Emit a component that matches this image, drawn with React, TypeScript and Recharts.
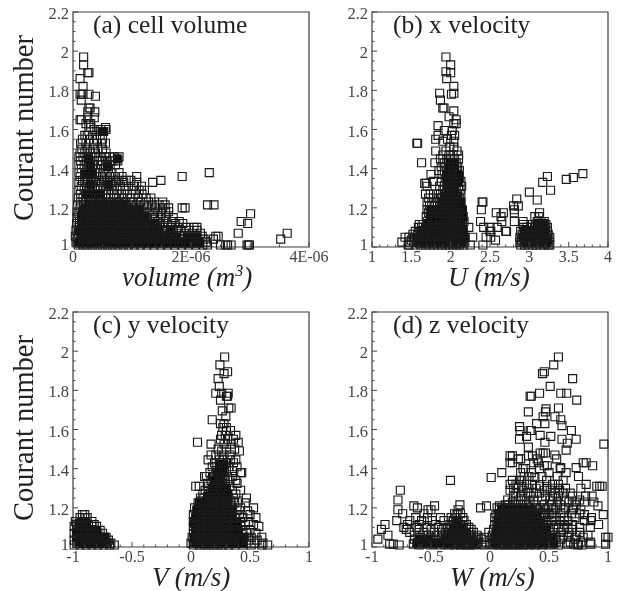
import { ScatterChart, Scatter, XAxis, YAxis, ZAxis, ReferenceArea } from 'recharts';

type Row = [number, number[]];

const courantMajor = [1, 1.2, 1.4, 1.6, 1.8, 2, 2.2];
const courantTicks = [1, 1.05, 1.1, 1.15, 1.2, 1.25, 1.3, 1.35, 1.4, 1.45, 1.5, 1.55, 1.6, 1.65, 1.7, 1.75, 1.8, 1.85, 1.9, 1.95, 2, 2.05, 2.1, 2.15, 2.2];

const volumeMajor = [0, 2, 4];
const volumeLabels = ['0', '2E-06', '4E-06'];
const volumeTicks = [0, 0.5, 1, 1.5, 2, 2.5, 3, 3.5, 4];
const uMajor = [1, 1.5, 2, 2.5, 3, 3.5, 4];
const uLabels = ['1', '1.5', '2', '2.5', '3', '3.5', '4'];
const uTicks = [1, 1.1, 1.2, 1.3, 1.4, 1.5, 1.6, 1.7, 1.8, 1.9, 2, 2.1, 2.2, 2.3, 2.4, 2.5, 2.6, 2.7, 2.8, 2.9, 3, 3.1, 3.2, 3.3, 3.4, 3.5, 3.6, 3.7, 3.8, 3.9, 4];
const vwMajor = [-1, -0.5, 0, 0.5, 1];
const vwLabels = ['-1', '-0.5', '0', '0.5', '1'];
const vwTicks = [-1, -0.9, -0.8, -0.7, -0.6, -0.5, -0.4, -0.3, -0.2, -0.1, 0, 0.1, 0.2, 0.3, 0.4, 0.5, 0.6, 0.7, 0.8, 0.9, 1];

// each row: Courant number, then the x values read at that height (volume in 1E-06 m3)
const volumeRows: Row[] = [
  [1.97,[.18]],[1.93,[.18]],[1.89,[.27,.25]],[1.86,[.12]],[1.82,[.17]],[1.78,[.12,.17,.27,.15]],[1.77,[.38]],[1.75,[.14]],[1.71,[.27,.29]],[1.69,[.37,.25]],[1.66,[.36,.25]],[1.65,[.12,.14]],[1.63,[.27,.3,.22]],[1.61,[.55,.3]],[1.6,[.56,.36,.47]],[1.59,[.5,.52,.27,.44]],
  [1.57,[.2,.33,.46,.24]],[1.55,[.16,.28,.4,.5]],[1.53,[.13,.22,.35,.48,.55]],[1.5,[.15,.24,.34,.42,.5]],[1.48,[.12,.2,.3,.38,.56]],[1.46,[.1,.17,.26,.36,.46,.54,.62,.7,.78]],[1.44,[.13,.22,.3,.42,.5,.58,.66,.76]],[1.42,[.1,.19,.27,.35,.47,.55,.63,.72]],[1.4,[.14,.24,.33,.41,.52,.6]],
  [1.38,[.1,.2,.29,.37,.46,.56,.66,.78,2.31]],[1.36,[.12,.22,.31,.4,.5,.62,.72,.83,1.08,1.85]],[1.34,[.16,.25,.34,.44,.54,.68,.78,.9,.98,1.49]],[1.33,[.1,.2,.3,.38,.48,.58,.64,.74,.86,1.08,1.35]],[1.31,[.14,.23,.33,.42,.52,.6,.7,.8,.94,1.04,1.16]],[1.29,[.1,.19,.27,.37,.46,.56,.66,.76,.88,1,1.12,1.21]],
  [1.27,[.13,.22,.3,.4,.5,.6,.7,.82,.92,1.06,1.17]],[1.25,[.09,.17,.26,.35,.45,.55,.64,.74,.86,.98,1.1,1.24,1.32]],[1.23,[.13,.21,.3,.38,.47,.56,.68,.78,.9,1.02,1.14,1.28,1.38,1.52]],
  [1.215,[.08,.18,.27,.36,.44,.52,.61,.7,.8,.88,.98,1.08,1.2,1.34,1.46,1.56,2.28,2.39]],[1.2,[.12,.23,.31,.4,.49,.57,.66,.75,.84,.93,1.03,1.13,1.25,1.4,1.52,1.62,1.85,1.9]],
  [1.18,[.07,.16,.26,.34,.43,.53,.6,.7,.78,.88,.97,1.07,1.17,1.29,1.44,1.57,1.62]],[1.17,[.1,.2,.29,.38,.47,.56,.64,.73,.83,.92,1.01,1.11,1.22,1.34,1.5,3.01]],
  [1.15,[.07,.15,.24,.32,.41,.5,.59,.67,.77,.86,.95,1.05,1.15,1.26,1.38,1.48,1.58,1.7]],[1.13,[.11,.19,.28,.37,.45,.54,.62,.71,.81,.9,.99,1.09,1.2,1.31,1.43,1.54,1.68,1.8,2.85]],
  [1.12,[.06,.15,.23,.32,.41,.49,.58,.67,.75,.85,.94,1.03,1.14,1.25,1.37,1.48,1.6,1.74,1.86,2.96]],[1.1,[.1,.19,.27,.36,.45,.53,.62,.7,.79,.88,.98,1.07,1.18,1.29,1.42,1.53,1.66,1.78,1.92,2.05,2.1]],
  [1.085,[.05,.14,.22,.31,.4,.48,.57,.65,.74,.83,.93,1.03,1.13,1.24,1.35,1.47,1.58,1.7,1.83,1.97,2.1]],[1.07,[.09,.18,.26,.35,.44,.52,.61,.69,.78,.87,.97,1.08,1.19,1.3,1.42,1.53,1.64,1.76,1.89,2.02,2.16,2.8,3.63]],
  [1.055,[.04,.13,.22,.3,.39,.47,.56,.64,.73,.82,.92,1.02,1.13,1.24,1.36,1.47,1.58,1.7,1.82,1.94,2.07,2.19,2.42,2.46]],[1.04,[.08,.17,.26,.34,.43,.51,.6,.68,.77,.86,.96,1.06,1.17,1.28,1.4,1.51,1.62,1.74,1.86,1.98,2.1,2.22,2.38,3.52]],
  [1.025,[.05,.13,.21,.29,.38,.46,.55,.63,.72,.81,.9,1,1.1,1.21,1.33,1.45,1.56,1.67,1.79,1.91,2.03,2.14,2.26]],[1.01,[.09,.17,.25,.33,.42,.5,.59,.67,.76,.85,.94,1.04,1.14,1.25,1.37,1.49,1.6,1.72,1.84,1.96,2.08,2.2,2.28,2.5,2.59,2.62,2.68,2.95,2.97,2.99]]
];

// where the open squares pile up into solid ink, same units as the rows above
const volumeCore: Row[] = [
  [1.59,[.51]],[1.45,[.75,.26]],[1.41,[.58,.3]],[1.37,[.2,.33]],[1.32,[.3,.6]],[1.27,[.22,.34,.46]],[1.22,[.26,.38,.5,.62,.74,.86]],[1.19,[.18,.3,.42,.54,.66,.78,.9,1,1.12]],[1.155,[.14,.26,.38,.5,.62,.74,.86,.98,1.1,1.22]],[1.12,[.15,.27,.39,.5,.62,.74,.86,.98,1.1,1.22,1.38]],
  [1.085,[.1,.22,.34,.46,.58,.7,.82,.94,1.06,1.18,1.3,1.45,1.66]],[1.05,[.15,.27,.39,.51,.63,.75,.86,.98,1.1,1.22,1.34,1.47,1.6,1.74,1.96,2.1]],[1.02,[.1,.22,.33,.46,.57,.7,.81,.93,1.04,1.17,1.28,1.4,1.53,1.65,1.78,1.9,2.02,2.15]]
];

// U velocity in m/s
const uRows: Row[] = [
  [1.97,[1.94]],[1.93,[2]],[1.895,[1.94]],[1.89,[2]],[1.86,[1.95]],[1.82,[2.04]],[1.785,[2.04,1.86]],[1.78,[2.01]],[1.75,[1.87]],[1.71,[1.9,1.915]],[1.695,[2.04]],[1.665,[1.98]],[1.65,[2.07]],[1.63,[2.07,2.04]],[1.62,[1.84]],[1.595,[1.92,2.02]],[1.57,[1.84,2.05,2.01]],[1.55,[1.81,1.96]],[1.54,[1.9,2.04]],[1.53,[1.57,1.58]],[1.51,[1.99,2.04]],[1.49,[1.81,1.94,2.08]],[1.47,[1.9,1.98,2.03,2.1]],
  [1.45,[1.87,1.95,2,2.05,2.1]],[1.43,[1.63,1.8,1.92,1.97,2.02,2.07]],[1.41,[1.88,1.94,1.99,2.04,2.09]],[1.39,[1.85,1.92,1.97,2.02,2.07,2.11]],[1.37,[1.75,1.89,1.95,2,2.04,2.09]],[1.35,[1.93,1.98,2.02,2.06,2.11]],[1.335,[1.78,1.88,1.95,2,2.04,2.08,2.13]],[1.325,[1.67,1.69]],[1.31,[1.7,1.86,1.92,1.97,2.01,2.05,2.1,2.14]],[1.29,[1.9,1.95,1.99,2.03,2.07,2.12]],[1.27,[1.68,1.74,1.82,1.87,1.93,1.97,2.01,2.05,2.09,2.13]],
  [1.25,[1.72,1.78,1.85,1.9,1.95,1.99,2.03,2.07,2.11]],[1.23,[1.7,1.76,1.83,1.88,1.93,1.97,2.01,2.05,2.09,2.13,2.4,2.41]],[1.21,[1.73,1.79,1.86,1.91,1.95,1.99,2.03,2.07,2.12,2.8,2.86]],[1.19,[1.7,1.75,1.81,1.87,1.92,1.96,2,2.04,2.08,2.13,2.39,2.81]],[1.175,[1.72,1.78,1.83,1.89,1.94,1.98,2.02,2.06,2.1,2.15,2.58,2.67,2.81,3.13]],[1.155,[1.69,1.75,1.8,1.86,1.91,1.95,1.99,2.03,2.07,2.11,2.16,2.64,3.07,3.12]],
  [1.13,[1.7,1.76,1.81,1.87,1.92,1.96,2,2.04,2.08,2.13,2.17,2.38,2.65,2.81,2.92,3.1,3.15,3.19]],[1.115,[1.6,1.65,1.72,1.78,1.84,1.89,1.94,1.98,2.02,2.06,2.11,2.15,2.92,3.04,3.08,3.13,3.18,3.21]],[1.1,[1.59,1.63,1.68,1.74,1.8,1.85,1.9,1.95,2,2.04,2.08,2.12,2.23,2.42,2.5,2.59,2.93,2.97,3.02,3.07,3.12,3.16,3.2,3.23]],
  [1.08,[1.55,1.61,1.66,1.71,1.77,1.82,1.87,1.92,1.97,2.01,2.05,2.1,2.14,2.5,2.51,2.7,2.71,2.89,2.94,2.99,3.04,3.09,3.14,3.18,3.23]],[1.065,[1.52,1.58,1.63,1.69,1.74,1.79,1.84,1.89,1.94,1.99,2.03,2.08,2.12,2.16,2.91,2.96,3.01,3.06,3.11,3.15,3.2,3.24]],[1.05,[1.42,1.47,1.54,1.6,1.66,1.72,1.77,1.82,1.87,1.92,1.97,2.01,2.05,2.1,2.14,2.18,2.28,2.45,2.51,2.88,2.93,2.98,3.03,3.08,3.13,3.17,3.22,3.26]],
  [1.035,[1.5,1.56,1.62,1.68,1.74,1.79,1.84,1.89,1.94,1.99,2.03,2.08,2.12,2.16,2.57,2.9,2.95,3,3.05,3.1,3.15,3.19,3.23]],[1.025,[1.38,1.47,1.53,1.59,1.65,1.71,1.76,1.81,1.86,1.91,1.96,2,2.05,2.09,2.14,2.18,2.88,2.92,2.97,3.02,3.07,3.12,3.17,3.21,3.25]],[1.01,[1.46,1.47,1.55,1.62,1.68,1.74,1.79,1.84,1.89,1.94,1.98,2.03,2.07,2.11,2.16,2.25,2.41,2.89,2.94,2.99,3.04,3.09,3.14,3.19,3.24,3.26]],
  [1.36,[3.23]],[1.33,[3.17]],[1.29,[3.27]],[1.28,[3]],[1.245,[2.84]],[1.24,[3.1]],[1.345,[3.47]],[1.355,[3.56]],[1.375,[3.68]]
];

const uCore: Row[] = [
  [1.43,[1.99,2.04]],[1.4,[1.97,2.05]],[1.365,[1.95,2.03,2.1]],[1.33,[1.96,2.04,2.1]],[1.295,[1.97,2.05]],[1.26,[1.93,2.01,2.09]],[1.225,[1.9,1.98,2.06,2.13]],[1.19,[1.75,1.84,1.93,2.01,2.09,2.15]],[1.155,[1.74,1.83,1.92,2,2.08,2.15]],
  [1.12,[1.7,1.79,1.88,1.97,2.05,2.13,3.1,3.18]],[1.085,[1.64,1.73,1.82,1.91,2,2.08,2.16,2.95,3.04,3.13,3.2]],[1.05,[1.57,1.66,1.75,1.84,1.93,2.02,2.1,2.18,2.92,3.01,3.1,3.19]],[1.02,[1.6,1.69,1.78,1.87,1.96,2.05,2.14,2.95,3.04,3.13,3.22]]
];

// V velocity in m/s
const vRows: Row[] = [
  [1.97,[.285]],[1.93,[.245]],[1.895,[.31]],[1.885,[.28]],[1.86,[.23]],[1.82,[.24]],[1.785,[.21,.26,.315]],[1.77,[.31,.3]],[1.75,[.25]],[1.71,[.32,.34]],[1.695,[.265]],[1.665,[.295]],[1.65,[.18]],[1.63,[.25,.28]],[1.61,[.27,.3]],[1.595,[.335,.3]],[1.57,[.26,.38,.29]],[1.55,[.25,.31,.36]],[1.535,[.055,.4]],[1.525,[.17,.28,.34]],[1.5,[.23,.3,.37]],[1.49,[.41,.26]],
  [1.47,[.17,.21,.28,.33]],[1.445,[.145,.24,.27,.335,.38]],[1.43,[.2,.25,.3,.36]],[1.41,[.18,.22,.27,.32,.39]],[1.39,[.21,.25,.3,.35]],[1.38,[.42,.43,.16]],[1.36,[.115,.13,.19,.23,.27,.31,.35]],[1.34,[.17,.21,.25,.29,.33,.38]],[1.325,[.39,.14,.23,.27]],[1.31,[.04,.07,.15,.19,.25,.29,.33]],[1.29,[.12,.17,.21,.25,.29,.35,.42]],[1.27,[.1,.15,.19,.23,.27,.31,.38]],
  [1.25,[.08,.11,.16,.2,.24,.28,.32,.36,.47]],[1.235,[.09,.13,.17,.21,.25,.29,.34,.4]],[1.225,[.06,.11,.15,.19,.23,.27,.31,.37,.46]],[1.2,[.03,.07,.11,.15,.19,.23,.27,.31,.35,.42,.53]],[1.185,[.05,.09,.13,.17,.21,.25,.29,.33,.39,.48]],[1.165,[.02,.06,.1,.14,.18,.22,.26,.3,.35,.41,.5,-.9,-.92]],[1.15,[.04,.08,.12,.16,.2,.24,.28,.32,.38,.44,.55,-.94,-.88,-.9]],
  [1.13,[.02,.06,.1,.14,.18,.22,.26,.31,.36,.42,.49,-.98,-.93,-.89,-.84]],[1.115,[.04,.08,.12,.16,.2,.24,.28,.33,.39,.46,.53,-.97,-.92,-.87,-.82]],[1.105,[.02,.06,.1,.14,.18,.22,.26,.3,.36,.42,.575,-.99,-.94,-.89,-.84,-.8]],[1.085,[.04,.08,.12,.16,.2,.24,.28,.33,.38,.44,.5,-.97,-.92,-.87,-.82,-.77]],[1.07,[.02,.06,.1,.14,.18,.22,.26,.3,.35,.4,.47,.55,-.99,-.94,-.89,-.84,-.79,-.75]],
  [1.05,[.01,.05,.09,.13,.17,.21,.25,.29,.33,.38,.44,.51,.6,-.97,-.92,-.87,-.82,-.77,-.72]],[1.035,[.03,.07,.11,.15,.19,.23,.27,.31,.36,.42,.49,.56,-.99,-.94,-.89,-.84,-.79,-.74,-.7]],[1.02,[0,.05,.09,.13,.17,.21,.25,.29,.34,.4,.47,.54,.61,-.97,-.92,-.87,-.82,-.77,-.72,-.68]],[1.01,[.02,.07,.11,.15,.19,.23,.27,.32,.37,.44,.51,.6,.65,-.99,-.94,-.89,-.84,-.79,-.74,-.69,-.65]]
];

const vCore: Row[] = [
  [1.42,[.24,.28]],[1.38,[.22,.27]],[1.34,[.2,.25]],[1.3,[.18,.24,.3]],[1.26,[.14,.2,.26,.31]],[1.225,[.07,.13,.19,.25,.31]],[1.19,[.05,.11,.17,.23,.29,.35]],[1.155,[.04,.1,.16,.22,.28,.34]],
  [1.12,[.03,.09,.15,.21,.27,.33,.39,-.95,-.89]],[1.085,[.04,.1,.16,.22,.28,.34,.4,-.97,-.91,-.85,-.8]],[1.05,[.03,.09,.15,.21,.27,.33,.39,.45,-.97,-.91,-.85,-.79,-.73]],[1.02,[.02,.08,.14,.2,.26,.32,.38,.44,-.95,-.89,-.83,-.77,-.71]]
];

// W velocity in m/s
const wRows: Row[] = [
  [1.97,[.58]],[1.93,[.54]],[1.895,[.46]],[1.885,[.445]],[1.86,[.7]],[1.82,[.51]],[1.785,[.42,.6,.65]],[1.77,[.34,.35]],[1.75,[.735]],[1.71,[.58]],[1.705,[.475]],[1.69,[.47,.325]],[1.665,[.55,.45]],[1.65,[.6]],[1.63,[.465,.395]],[1.62,[.61]],[1.615,[.25]],[1.595,[.255,.34,.35,.69]],[1.57,[.425]],[1.565,[.31,.515]],[1.55,[.25,.61,.73]],[1.535,[.465]],[1.53,[.655]],[1.525,[.965]],[1.51,[.325]],[1.495,[.645]],
  [1.48,[.425,.45,.47]],[1.47,[.55]],[1.465,[.17,.19,.325,.36]],[1.45,[.24,.26,.4,.565]],[1.43,[.17,.19,.37,.41,.79,.815]],[1.415,[.485,.87,.46]],[1.405,[.73,.6]],[1.4,[.3,.28,.595,.42]],[1.38,[.1,.645,.26,.35,.5]],[1.36,[.75,.57,.44,.33,.29]],[1.355,[.01,.38]],[1.34,[-.335,.19,.25,.27,.48,.62]],[1.32,[.815,.17,.22,.31,.36,.53,.58]],
  [1.31,[.905,.93,.95,.27,.42,.48]],[1.3,[.77,.2,.24,.33,.39,.55,.64]],[1.29,[-.76,.17,.28,.46,.51,.59]],[1.275,[.22,.32,.37,.42,.55,.68,.62]],[1.26,[.81,.865,.2,.26,.34,.47,.53,.58,.7]],[1.24,[-.78,.15,.24,.29,.37,.44,.51,.63,.76]],[1.23,[.72,.88,.8,.19,.34,.57,.67]],[1.215,[-.255,.13,.16,.21,.26,.31,.39,.46,.52,.6,.73]],[1.21,[-.645,-.47,.915,-.03,.08]],
  [1.2,[-.615,-.08,.06,.1,.14,.18,.23,.28,.33,.38,.43,.49,.56,.64,.71]],[1.19,[-.78,-.525,-.5,-.27,.08,.12,.16,.2,.25,.3,.36,.41,.47,.54,.62,.7,.77]],[1.17,[-.74,-.56,-.3,-.25,.05,.09,.13,.17,.21,.25,.3,.35,.4,.46,.52,.6,.69,.76]],[1.165,[.96,.8,-.28,.07,.11,.15,.19,.23,.27,.33,.38,.44,.5]],[1.15,[-.63,-.53,-.42,-.33,-.29,-.23,.86,.04,.08,.12,.16,.2,.24,.28,.32,.37,.42,.47,.55,.63,.72]],
  [1.135,[-.79,-.68,-.58,-.49,-.39,-.31,-.27,-.22,.855,.06,.1,.14,.18,.22,.26,.3,.35,.4,.45,.52,.6,.66,.8]],[1.115,[-.89,-.7,-.6,-.46,-.34,-.29,-.25,-.2,.04,.08,.12,.16,.2,.24,.28,.32,.37,.42,.48,.56,.63,.7,.92]],[1.1,[-.73,-.62,-.54,-.44,-.36,-.31,-.27,-.23,-.18,.06,.1,.14,.18,.22,.26,.3,.34,.39,.44,.5,.58,.66,.76,.85]],[1.09,[-.92,-.71,-.6,-.5,-.41,-.33,-.28,-.24,-.2,-.16,.03,.07,.11,.15,.19,.23,.27,.31,.36,.41,.47,.54,.62,.7]],
  [1.075,[-.68,-.56,-.47,-.38,-.35,-.3,-.26,-.22,-.18,-.14,-.01,.05,.09,.13,.17,.21,.25,.29,.33,.38,.44,.51,.6,.67,.76]],[1.06,[-.865,-.64,-.52,-.44,-.36,-.32,-.28,-.24,-.2,-.16,-.11,.02,.06,.1,.14,.18,.22,.26,.3,.35,.4,.46,.53,.62,.73,.83]],[1.05,[-.6,-.5,-.41,-.34,-.3,-.26,-.22,-.18,-.14,-.1,-.05,.04,.08,.12,.16,.2,.24,.28,.32,.37,.42,.48,.56,.66,.79,.98,1]],
  [1.04,[-.95,-.64,-.55,-.46,-.38,-.32,-.28,-.24,-.2,-.16,-.12,-.07,.02,.06,.1,.14,.18,.22,.26,.3,.34,.39,.45,.52,.6,.72]],[1.025,[-.61,-.52,-.43,-.36,-.3,-.26,-.22,-.18,-.14,-.1,-.04,.04,.08,.12,.16,.2,.24,.28,.32,.37,.42,.49,.56,.68,.77,.85]],[1.015,[-.85,-.82,-.65,-.57,-.48,-.39,-.33,-.28,-.24,-.2,-.16,-.12,-.07,0,.06,.1,.14,.18,.22,.26,.3,.35,.4,.46,.54,.66,.71,.75,.855,.98]],[1.01,[-.77,-.6,-.5,-.42,-.35,-.3,-.25,-.21,-.17,-.13,-.05,.03,.08,.12,.16,.2,.24,.28,.33,.38,.44,.5,.58,.74,.78]]
];

const wCore: Row[] = [
  [1.19,[.1,.17,.23,.29,.35]],[1.155,[.1,.16,.22,.28,.34,.4]],[1.13,[-.28]],[1.12,[.07,.13,.19,.25,.31,.37,.43]],[1.1,[-.31,-.25]],[1.085,[.06,.12,.18,.24,.3,.36,.42,.48]],[1.07,[-.33,-.27,-.21]],
  [1.05,[.05,.11,.17,.23,.29,.35,.41,.47,.53]],[1.04,[-.6,-.52,-.38,-.32,-.26,-.2]],[1.02,[.04,.1,.16,.22,.28,.34,.4,.46,.54,-.62,-.54,-.47,-.4,-.34,-.28,-.22,-.14]]
];

function toPoints(rows: Row[]) {
  return rows.flatMap(([y, xs]) => xs.map(x => ({ x, y })));
}

const inkColor = '#1a1a1a';
const tickColor = '#454545';

function Panel(props: {
  left: number;
  top: number;
  rows: Row[];
  core: Row[];
  domain: [number, number];
  ticks: number[];
  major: number[];
  labels: string[];
  title: string;
  xTitle: React.ReactNode;
  xTitleX: number;
  showY: boolean;
}) {
  const { left, top, rows, core, domain, ticks, major, labels, title, xTitle, xTitleX, showY } = props;

  const xTick = ({ x, y, payload }: any) => {
    const i = major.indexOf(payload.value);
    return (
      <g>
        <line x1={x} x2={x} y1={y} y2={y - (i >= 0 ? 5 : 2.5)} stroke={tickColor} />
        {i >= 0 && (
          <text x={x} y={y + 15} textAnchor="middle" fontSize={16} fontFamily="Liberation Serif" fill={tickColor}>
            {labels[i]}
          </text>
        )}
      </g>
    );
  };

  const yTick = ({ x, y, payload }: any) => {
    const isMajor = courantMajor.includes(payload.value);
    return (
      <g>
        <line x1={x} x2={x + (isMajor ? 5 : 2.5)} y1={y} y2={y} stroke={tickColor} />
        {isMajor && (
          <text x={x - 4} y={y + (payload.value === 1 ? 3 : 7)} textAnchor="end" fontSize={16.5} fontFamily="Liberation Serif" fill={tickColor}>
            {payload.value}
          </text>
        )}
      </g>
    );
  };

  return (
    <div style={{ position: 'absolute', left, top }}>
      <ScatterChart width={345} height={295} margin={{ top: 12, right: 36, bottom: 0, left: 0 }}>
        <XAxis
          type="number"
          dataKey="x"
          domain={domain}
          ticks={ticks}
          interval={0}
          axisLine={false}
          tickLine={false}
          tickSize={0}
          tickMargin={0}
          height={48}
          tick={xTick}
        />
        <YAxis
          type="number"
          dataKey="y"
          domain={[1, 2.2]}
          ticks={courantTicks}
          interval={0}
          axisLine={false}
          tickLine={false}
          tickSize={0}
          tickMargin={0}
          width={73}
          tick={yTick}
        />
        <ZAxis range={[36, 36]} />
        <ReferenceArea x1={domain[0]} x2={domain[1]} y1={1} y2={2.2} fill="none" stroke="#3c3c3c" strokeWidth={1.2} fillOpacity={0} />
        <Scatter data={toPoints(core)} shape="square" fill="#000" stroke="#000" strokeWidth={1} isAnimationActive={false} />
        <Scatter data={toPoints(rows)} shape="square" fill="none" stroke={inkColor} strokeWidth={1.15} isAnimationActive={false} />
        <text x={title.startsWith('(a') || title.startsWith('(c') ? 93 : 94} y={33} fontSize={25.5} fontFamily="Liberation Serif" fill="#222">
          {title}
        </text>
        <text x={xTitleX} y={286} fontSize={27} fontFamily="Liberation Serif" fontStyle="italic" fill="#222">
          {xTitle}
        </text>
        {showY && (
          <text transform="translate(33 128) rotate(-90)" textAnchor="middle" fontSize={28.5} fontFamily="Liberation Serif" fill="#222">
            Courant number
          </text>
        )}
      </ScatterChart>
    </div>
  );
}

export default function App() {
  return (
    <div style={{ position: 'absolute', left: 0, top: 0, width: 618, height: 591, overflow: 'hidden', background: '#fff', filter: 'blur(0.45px)' }}>
      <Panel left={0} top={0} rows={volumeRows} core={volumeCore} domain={[0, 4]} ticks={volumeTicks} major={volumeMajor} labels={volumeLabels} title="(a) cell volume"
        xTitle={<>volume (m<tspan dy={-10} fontSize={16}>3</tspan><tspan dy={10}>)</tspan></>} xTitleX={122} showY />
      <Panel left={299} top={0} rows={uRows} core={uCore} domain={[1, 4]} ticks={uTicks} major={uMajor} labels={uLabels} title="(b) x velocity" xTitle="U (m/s)" xTitleX={149} showY={false} />
      <Panel left={0} top={300} rows={vRows} core={vCore} domain={[-1, 1]} ticks={vwTicks} major={vwMajor} labels={vwLabels} title="(c) y velocity" xTitle="V (m/s)" xTitleX={152} showY />
      <Panel left={299} top={300} rows={wRows} core={wCore} domain={[-1, 1]} ticks={vwTicks} major={vwMajor} labels={vwLabels} title="(d) z velocity" xTitle="W (m/s)" xTitleX={151} showY={false} />
    </div>
  );
}
